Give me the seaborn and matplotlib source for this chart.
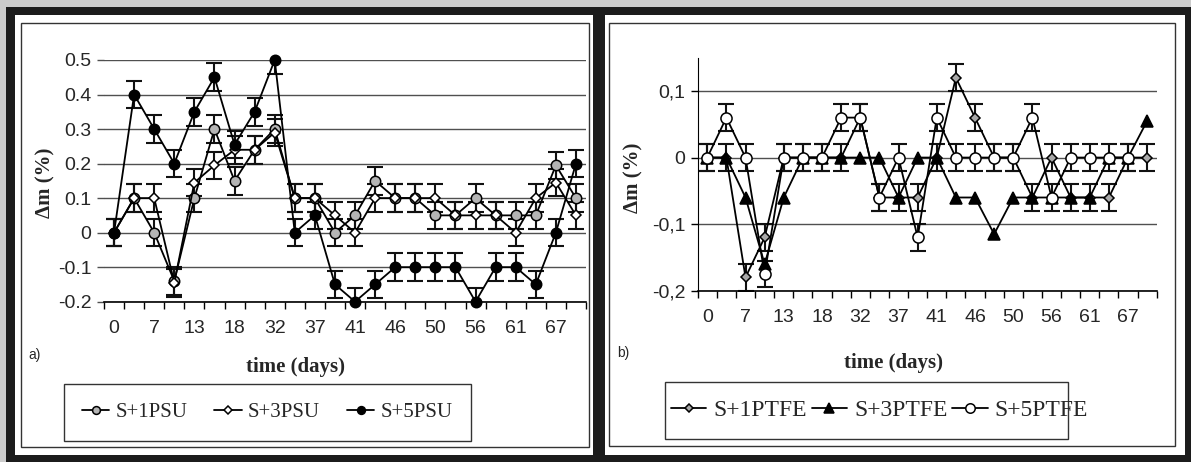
import numpy as np
import pandas as pd
import seaborn as sns
import matplotlib
matplotlib.use("Agg")
import matplotlib.pyplot as plt
from matplotlib.patches import Rectangle
from matplotlib.font_manager import FontProperties

sns.set_style("ticks")
plt.rcParams['font.family'] = ['Liberation Sans', 'DejaVu Sans']

W, H = 1191, 462

# every other category is labelled on the time axis
day_labels = ["0", "7", "13", "18", "32", "37", "41", "46", "50", "56", "61", "67"]
n_days = 24

# panel a) PSU samples, delta m (%)
psu_1 = [0, 0.1, 0, -0.14, 0.1, 0.3, 0.15, 0.24, 0.3, 0.1, 0.1, 0, 0.05, 0.15,
         0.1, 0.1, 0.05, 0.05, 0.1, 0.05, 0.05, 0.05, 0.195, 0.1]
psu_3 = [0, 0.1, 0.1, -0.145, 0.145, 0.195, 0.24, 0.24, 0.29, 0.1, 0.1, 0.05, 0, 0.1,
         0.1, 0.1, 0.1, 0.05, 0.05, 0.05, 0, 0.1, 0.145, 0.05]
psu_5 = [0, 0.4, 0.3, 0.2, 0.35, 0.45, 0.255, 0.35, 0.5, 0, 0.05, -0.15, -0.2, -0.15,
         -0.1, -0.1, -0.1, -0.1, -0.2, -0.1, -0.1, -0.15, 0, 0.2]
psu_err = 0.04

# panel b) PTFE samples, delta m (%)
ptfe_1 = [0, 0, -0.18, -0.12, 0, 0, 0, 0, 0.06, -0.06, -0.06, -0.06, 0, 0.12,
          0.06, 0, 0, -0.06, 0, -0.06, -0.06, -0.06, 0, 0]
ptfe_3 = [0, 0, -0.06, -0.16, -0.06, 0, 0, 0, 0, 0, -0.06, 0, 0, -0.06,
          -0.06, -0.115, -0.06, -0.06, -0.06, -0.06, -0.06, 0, 0, 0.055]
ptfe_5 = [0, 0.06, 0, -0.175, 0, 0, 0, 0.06, 0.06, -0.06, 0, -0.12, 0.06, 0,
          0, 0, 0, 0.06, -0.06, 0, 0, 0, 0, np.nan]
ptfe_err = 0.02

a_yticks = [-0.2, -0.1, 0, 0.1, 0.2, 0.3, 0.4, 0.5]
a_ylabels = ["-0.2", "-0.1", "0", "0.1", "0.2", "0.3", "0.4", "0.5"]
b_yticks = [-0.2, -0.1, 0, 0.1]
b_ylabels = ["-0,2", "-0,1", "0", "0,1"]


def frac(x, y):
    # pixel (top-left origin) -> figure fraction
    return x / W, 1 - y / H


def rect(x0, y0, x1, y1, **kw):
    fx, fy = frac(x0, y1)
    return Rectangle((fx, fy), (x1 - x0) / W, (y1 - y0) / H,
                     transform=fig.transFigure, **kw)


def draw_series(ax, values, err, marker, face, ms, label):
    df = pd.DataFrame({"day": np.arange(len(values)), "dm": values})
    if err:
        ax.errorbar(df["day"], df["dm"], yerr=err, fmt='none', ecolor='#111111',
                    elinewidth=1.5, capsize=5.5, capthick=1.5, zorder=2)
    sns.lineplot(data=df, x="day", y="dm", ax=ax, color='black', linewidth=1.3,
                 marker=marker, markersize=ms, markerfacecolor=face,
                 markeredgecolor='black', markeredgewidth=1.1, zorder=3, clip_on=False)
    line = ax.lines[-1]
    line.set_label(label)
    return line


def style_axis(ax, yticks, ylabels, ylim, show_left):
    ax.set_xlim(-0.5, n_days - 0.5)
    ax.set_ylim(*ylim)
    ax.set_xticks(np.arange(n_days + 1) - 0.5)
    ax.set_xticklabels([])
    ax.set_xticks(np.arange(0, n_days, 2), day_labels, minor=True)
    ax.tick_params(axis='x', which='major', direction='out', length=5, width=1, color='black')
    ax.tick_params(axis='x', which='minor', length=0, pad=13, labelsize=14)
    ax.set_yticks(yticks, ylabels)
    ax.tick_params(axis='y', direction='out', length=5, width=1, labelsize=14, pad=4,
                   color='black' if show_left else '#505050')
    ax.yaxis.grid(True, color='#505050', linewidth=1)
    ax.set_axisbelow(True)
    for s in ['top', 'right']:
        ax.spines[s].set_visible(False)
    ax.spines['left'].set_visible(show_left)
    ax.spines['left'].set_color('black')
    ax.spines['bottom'].set_color('black')
    ax.spines['bottom'].set_linewidth(1.2)
    ax.set_xlabel("")
    ax.set_ylabel("")
    ax.set_facecolor('none')
    if ax.get_legend() is not None:
        ax.get_legend().remove()


fig = plt.figure(figsize=(W / 100, H / 100), dpi=100)
fig.patch.set_facecolor('#cccccc')

# outer frame and white panels
fig.patches.append(rect(6, 7, W + 2, H + 2, facecolor='#1c1c1c', edgecolor='none', zorder=-5))
fig.patches.append(rect(15, 15, 593, 455, facecolor='white', edgecolor='none', zorder=-4))
fig.patches.append(rect(605, 15, 1185, 455, facecolor='white', edgecolor='none', zorder=-4))
fig.patches.append(rect(21, 23, 589, 447, facecolor='none', edgecolor='#333333', lw=1, zorder=-3))
fig.patches.append(rect(609, 23, 1175, 446, facecolor='none', edgecolor='#333333', lw=1, zorder=-3))
fig.patches.append(rect(64, 384, 471, 441, facecolor='none', edgecolor='#333333', lw=1, zorder=-3))
fig.patches.append(rect(665, 382, 1068, 439, facecolor='none', edgecolor='#333333', lw=1, zorder=-3))

x0, y0 = frac(104, 301.7)
ax1 = fig.add_axes([x0, y0, 482 / W, 241.7 / H])
x0, y0 = frac(697.7, 290.7)
ax2 = fig.add_axes([x0, y0, 459 / W, 233 / H])

# panel a
h1 = [draw_series(ax1, psu_1, psu_err, 'o', '#b4b4b4', 7.5, "S+1PSU"),
      draw_series(ax1, psu_3, psu_err, 'D', 'white', 5.2, "S+3PSU"),
      draw_series(ax1, psu_5, psu_err, 'o', 'black', 7.5, "S+5PSU")]
style_axis(ax1, a_yticks, a_ylabels, (-0.2, 0.5), False)

# panel b
h2 = [draw_series(ax2, ptfe_1, ptfe_err, 'D', '#a8a8a8', 5.2, "S+1PTFE"),
      draw_series(ax2, ptfe_3, None, '^', 'black', 8.5, "S+3PTFE"),
      draw_series(ax2, ptfe_5, ptfe_err, 'o', 'white', 8, "S+5PTFE")]
style_axis(ax2, b_yticks, b_ylabels, (-0.2, 0.15), True)

serif_b = dict(family=['Liberation Serif', 'DejaVu Serif'], fontweight='bold', fontsize=15)
fig.text(*frac(45, 183), "Δm (%)", rotation=90, ha='center', va='center', **serif_b)
fig.text(*frac(633, 178), "Δm (%)", rotation=90, ha='center', va='center', **serif_b)
fig.text(*frac(296, 367), "time (days)", ha='center', va='center', **serif_b)
fig.text(*frac(894, 363), "time (days)", ha='center', va='center', **serif_b)
fig.text(*frac(35, 355), "a)", ha='center', va='center', fontsize=10)
fig.text(*frac(623, 353), "b)", ha='center', va='center', fontsize=10)

fig.legend(h1, [h.get_label() for h in h1], loc='center left',
           bbox_to_anchor=frac(82, 412.5), ncol=3, frameon=False,
           prop=FontProperties(family='Liberation Serif', size=15),
           handlelength=1.3, handletextpad=0.3, columnspacing=1.3,
           markerscale=0.75, borderpad=0, borderaxespad=0)
fig.legend(h2, [h.get_label() for h in h2], loc='center left',
           bbox_to_anchor=frac(671, 410.5), ncol=3, frameon=False,
           prop=FontProperties(family='Liberation Serif', size=17),
           handlelength=1.5, handletextpad=0.3, columnspacing=0.2,
           markerscale=0.85, borderpad=0, borderaxespad=0)

fig.savefig("out.png", dpi=100, facecolor=fig.get_facecolor())
